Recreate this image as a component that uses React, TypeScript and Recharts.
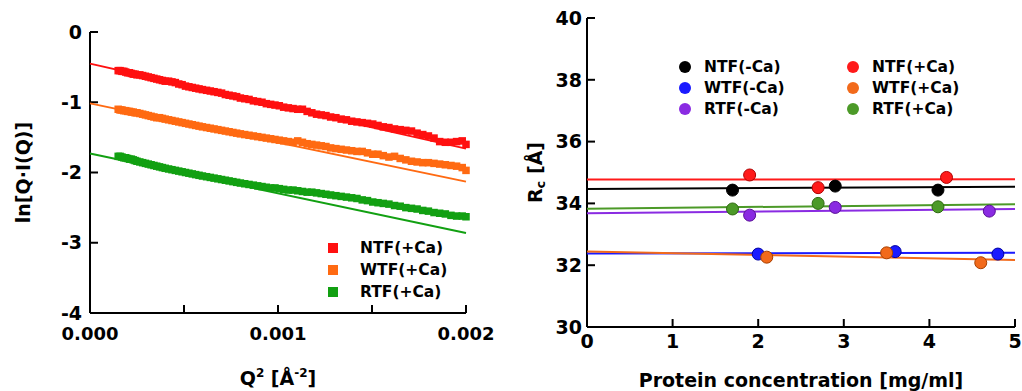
import { Scatter, ScatterChart, XAxis, YAxis } from 'recharts'

// ---- left panel: Guinier-type plot ln[Q·I(Q)] vs Q^2 ----
const Q2 = [
  0.00015, 0.00016, 0.00017, 0.00018, 0.00019, 0.0002, 0.00021, 0.00022, 0.00023, 0.00024, 0.00025,
  0.000265, 0.00028, 0.000295, 0.00031, 0.000325, 0.00034, 0.000355, 0.00037, 0.000385, 0.0004,
  0.000418, 0.000436, 0.000454, 0.000472, 0.00049, 0.000508, 0.000526, 0.000544, 0.000562, 0.00058, 0.000598,
  0.00062, 0.00064, 0.00066, 0.00068, 0.0007, 0.00072, 0.00074, 0.00076, 0.00078, 0.0008,
  0.000823, 0.000846, 0.000869, 0.000892, 0.000915, 0.000938, 0.000961, 0.000984, 0.001007, 0.00103,
  0.001055, 0.00108, 0.001105, 0.00113, 0.001155, 0.00118, 0.001205, 0.00123, 0.001255, 0.00128,
  0.001308, 0.001336, 0.001364, 0.001392, 0.00142, 0.001448, 0.001476, 0.001504, 0.001532, 0.00156,
  0.00159, 0.00162, 0.00165, 0.00168, 0.00171, 0.00174, 0.00177, 0.0018, 0.00183, 0.00186, 0.00189,
  0.00192, 0.00195, 0.00198, 0.002,
]
const NTF_CA = [
  -0.55, -0.55, -0.56, -0.56, -0.57, -0.58, -0.58, -0.59, -0.6, -0.6, -0.61,
  -0.61, -0.62, -0.63, -0.64, -0.65, -0.66, -0.67, -0.68, -0.69, -0.7,
  -0.7, -0.71, -0.72, -0.74, -0.75, -0.77, -0.78, -0.79, -0.8, -0.81, -0.82,
  -0.83, -0.84, -0.85, -0.86, -0.87, -0.89, -0.9, -0.91, -0.92, -0.94,
  -0.95, -0.96, -0.98, -0.99, -1.0, -1.02, -1.03, -1.04, -1.05, -1.07,
  -1.08, -1.09, -1.1, -1.1, -1.13, -1.15, -1.17, -1.18, -1.19, -1.21,
  -1.22, -1.24, -1.25, -1.27, -1.28, -1.29, -1.3, -1.31, -1.33, -1.35,
  -1.36, -1.38, -1.39, -1.4, -1.41, -1.44, -1.46, -1.48, -1.51, -1.56, -1.57,
  -1.57, -1.56, -1.55, -1.6,
]
const WTF_CA = [
  -1.1, -1.11, -1.11, -1.12, -1.12, -1.13, -1.13, -1.14, -1.14, -1.15, -1.15,
  -1.16, -1.17, -1.18, -1.19, -1.2, -1.21, -1.22, -1.22, -1.23, -1.24,
  -1.25, -1.26, -1.27, -1.28, -1.29, -1.3, -1.31, -1.32, -1.33, -1.34, -1.35,
  -1.36, -1.37, -1.38, -1.39, -1.4, -1.41, -1.42, -1.43, -1.44, -1.45,
  -1.46, -1.47, -1.48, -1.49, -1.5, -1.51, -1.52, -1.53, -1.54, -1.55,
  -1.56, -1.57, -1.55, -1.57, -1.59, -1.6, -1.61, -1.62, -1.63, -1.65,
  -1.66, -1.67, -1.68, -1.69, -1.7, -1.7, -1.72, -1.74, -1.74, -1.76,
  -1.78, -1.77, -1.8, -1.82, -1.84, -1.85, -1.86, -1.86, -1.87, -1.88, -1.89,
  -1.9, -1.91, -1.93, -1.97,
]
const RTF_CA = [
  -1.77, -1.77, -1.78, -1.79, -1.79, -1.8, -1.81, -1.81, -1.82, -1.83, -1.84,
  -1.85, -1.86, -1.87, -1.88, -1.89, -1.9, -1.91, -1.92, -1.93, -1.94,
  -1.95, -1.96, -1.97, -1.98, -1.99, -2.0, -2.01, -2.02, -2.03, -2.04, -2.05,
  -2.06, -2.07, -2.08, -2.09, -2.1, -2.11, -2.12, -2.13, -2.14, -2.15,
  -2.16, -2.17, -2.18, -2.19, -2.2, -2.21, -2.22, -2.22, -2.23, -2.24,
  -2.25, -2.25, -2.26, -2.27, -2.28, -2.28, -2.29, -2.3, -2.31, -2.32,
  -2.33, -2.34, -2.35, -2.36, -2.37, -2.39, -2.4, -2.42, -2.43, -2.44,
  -2.45, -2.47, -2.48, -2.5, -2.51, -2.52, -2.54, -2.55, -2.57, -2.58, -2.59,
  -2.61, -2.62, -2.62, -2.63,
]
const FIT_Q2 = [0, 0.002]
const NTF_CA_FIT = [-0.45, -1.66]
const WTF_CA_FIT = [-1.016, -2.13]
const RTF_CA_FIT = [-1.73, -2.86]

const Q2_TICKS = [0, 0.0005, 0.001, 0.0015, 0.002]
const LN_TICKS = [-4, -3, -2, -1, 0]

// ---- right panel: Rc vs protein concentration ----
const CONC_FIT = [0, 5]
const NTF_M_CONC = [1.7, 2.9, 4.1]
const NTF_M_RC = [34.43, 34.56, 34.43]
const NTF_M_FIT = [34.47, 34.54]
const NTF_P_CONC = [1.9, 2.7, 4.2]
const NTF_P_RC = [34.92, 34.51, 34.84]
const NTF_P_FIT = [34.77, 34.78]
const WTF_M_CONC = [2.0, 3.6, 4.8]
const WTF_M_RC = [32.36, 32.44, 32.36]
const WTF_M_FIT = [32.38, 32.4]
const WTF_P_CONC = [2.1, 3.5, 4.6]
const WTF_P_RC = [32.26, 32.4, 32.08]
const WTF_P_FIT = [32.44, 32.17]
const RTF_M_CONC = [1.9, 2.9, 4.7]
const RTF_M_RC = [33.62, 33.87, 33.75]
const RTF_M_FIT = [33.68, 33.82]
const RTF_P_CONC = [1.7, 2.7, 4.1]
const RTF_P_RC = [33.82, 34.0, 33.89]
const RTF_P_FIT = [33.83, 33.97]

const CONC_TICKS = [0, 1, 2, 3, 4, 5]
const RC_TICKS = [30, 32, 34, 36, 38, 40]

const FONT = '"DejaVu Sans", sans-serif'

const pts = (xs: number[], ys: number[]) => xs.map((x, i) => ({ x, y: ys[i] }))

const leftSeries = [
  { name: 'NTF(+Ca)', color: '#ff1010', values: NTF_CA, fit: NTF_CA_FIT },
  { name: 'WTF(+Ca)', color: '#ff6a12', values: WTF_CA, fit: WTF_CA_FIT },
  { name: 'RTF(+Ca)', color: '#12a012', values: RTF_CA, fit: RTF_CA_FIT },
]

const rightSeries = [
  { name: 'NTF(-Ca)', color: '#000000', edge: '#000000', conc: NTF_M_CONC, rc: NTF_M_RC, fit: NTF_M_FIT },
  { name: 'NTF(+Ca)', color: '#ff1a1a', edge: '#b00000', conc: NTF_P_CONC, rc: NTF_P_RC, fit: NTF_P_FIT },
  { name: 'WTF(-Ca)', color: '#1a1aff', edge: '#0000a0', conc: WTF_M_CONC, rc: WTF_M_RC, fit: WTF_M_FIT },
  { name: 'WTF(+Ca)', color: '#f26a1b', edge: '#a84000', conc: WTF_P_CONC, rc: WTF_P_RC, fit: WTF_P_FIT },
  { name: 'RTF(-Ca)', color: '#8a2be2', edge: '#5a1098', conc: RTF_M_CONC, rc: RTF_M_RC, fit: RTF_M_FIT },
  { name: 'RTF(+Ca)', color: '#4c9a28', edge: '#2e6a10', conc: RTF_P_CONC, rc: RTF_P_RC, fit: RTF_P_FIT },
]

const tickFont = { fontSize: 19, fontWeight: 'bold', fill: '#000', fontFamily: FONT }
const axisLine = { stroke: '#000', strokeWidth: 2 }
const noShape = () => <g />

const LnTitle = (props: any) => {
  const vb = props.viewBox
  const cx = vb.x + 23
  const cy = vb.y + vb.height / 2
  return (
    <text x={cx} y={cy} transform={`rotate(-90 ${cx} ${cy})`} textAnchor="middle" dominantBaseline="central"
      fontFamily={FONT} fontWeight="bold" fontSize={19} fill="#000">
      ln[Q·I(Q)]
    </text>
  )
}

const Q2Title = (props: any) => {
  const vb = props.viewBox
  return (
    <text x={vb.x + vb.width / 2} y={vb.y + 72} textAnchor="middle" fontFamily={FONT} fontWeight="bold" fontSize={19} fill="#000">
      <tspan>Q</tspan>
      <tspan dy={-8} fontSize={12}>2</tspan>
      <tspan dy={8}> [Å</tspan>
      <tspan dy={-8} fontSize={12}>-2</tspan>
      <tspan dy={8}>]</tspan>
    </text>
  )
}

const RcTitle = (props: any) => {
  const vb = props.viewBox
  const cx = vb.x + 15
  const cy = vb.y + vb.height / 2
  return (
    <text x={cx} y={cy} transform={`rotate(-90 ${cx} ${cy})`} textAnchor="middle" dominantBaseline="central"
      fontFamily={FONT} fontWeight="bold" fontSize={19} fill="#000">
      <tspan>R</tspan>
      <tspan dy={5} fontSize={13}>c</tspan>
      <tspan dy={-5}> [Å]</tspan>
    </text>
  )
}

const ConcTitle = (props: any) => {
  const vb = props.viewBox
  return (
    <text x={vb.x + vb.width / 2} y={vb.y + 60} textAnchor="middle" fontFamily={FONT} fontWeight="bold" fontSize={19} fill="#000">
      Protein concentration [mg/ml]
    </text>
  )
}

const legendText = { fontFamily: FONT, fontWeight: 'bold' as const, fontSize: 15.5, color: '#000', whiteSpace: 'nowrap' as const }

function LeftLegend() {
  return (
    <div style={{ position: 'absolute', left: 328, top: 237 }}>
      {leftSeries.map((s, i) => (
        <div key={s.name} style={{ position: 'absolute', top: i * 22, left: 0, display: 'flex', alignItems: 'center', height: 22 }}>
          <div style={{ width: 10, height: 10, background: s.color }} />
          <span style={{ ...legendText, marginLeft: 22 }}>{s.name}</span>
        </div>
      ))}
    </div>
  )
}

function RightLegend() {
  return (
    <div style={{ position: 'absolute', left: 679, top: 56 }}>
      {rightSeries.map((s, i) => (
        <div key={s.name} style={{ position: 'absolute', top: Math.floor(i / 2) * 21, left: (i % 2) * 168, display: 'flex', alignItems: 'center', height: 22 }}>
          <div style={{ width: 12, height: 12, borderRadius: 6, background: s.color }} />
          <span style={{ ...legendText, marginLeft: 13 }}>{s.name}</span>
        </div>
      ))}
    </div>
  )
}

export default function App() {
  return (
    <div style={{ position: 'absolute', left: 0, top: 0, width: 1022, height: 391, background: '#fff' }}>
      <div style={{ position: 'absolute', left: 0, top: 0 }}>
        <ScatterChart width={520} height={391} margin={{ top: 32, right: 54, bottom: 0, left: 0 }}>
          <XAxis xAxisId="b" type="number" dataKey="x" domain={[0, 0.002]} ticks={Q2_TICKS}
            tickFormatter={(v: number) => (v === 0.0005 || v === 0.0015 ? '' : v.toFixed(3))}
            height={78} axisLine={axisLine} tickLine={axisLine} tickSize={-8} tickMargin={22}
            tick={{ ...tickFont, fontSize: 18 }} label={<Q2Title />} />
          <XAxis xAxisId="t" orientation="top" type="number" dataKey="x" domain={[0, 0.002]} height={0}
            axisLine={axisLine} tick={false} tickLine={false} />
          <YAxis yAxisId="l" type="number" dataKey="y" domain={[-4, 0]} ticks={LN_TICKS} width={90}
            axisLine={axisLine} tickLine={axisLine} tickSize={-8} tickMargin={16} tick={tickFont}
            label={<LnTitle />} />
          <YAxis yAxisId="r" orientation="right" type="number" dataKey="y" domain={[-4, 0]} ticks={LN_TICKS} width={0}
            axisLine={axisLine} tickLine={axisLine} tickSize={-8} tick={false} />
          {leftSeries.map((s) => (
            <Scatter key={s.name + 'pts'} xAxisId="b" yAxisId="l" data={pts(Q2, s.values)} isAnimationActive={false}
              shape={(p: any) => <rect x={p.cx - 3.75} y={p.cy - 3.75} width={7.5} height={7.5} fill={s.color} />} />
          ))}
          {leftSeries.map((s) => (
            <Scatter key={s.name + 'fit'} xAxisId="b" yAxisId="l" data={pts(FIT_Q2, s.fit)} isAnimationActive={false}
              line={{ stroke: s.color, strokeWidth: 2 }} shape={noShape} />
          ))}
        </ScatterChart>
      </div>
      <div style={{ position: 'absolute', left: 520, top: 0 }}>
        <ScatterChart width={502} height={391} margin={{ top: 18, right: 7, bottom: 0, left: 0 }}>
          <XAxis xAxisId="b" type="number" dataKey="x" domain={[0, 5]} ticks={CONC_TICKS} height={64}
            axisLine={axisLine} tickLine={axisLine} tickSize={-8} tickMargin={16} tick={tickFont}
            label={<ConcTitle />} />
          <XAxis xAxisId="t" orientation="top" type="number" dataKey="x" domain={[0, 5]} height={0}
            axisLine={axisLine} tick={false} tickLine={false} />
          <YAxis yAxisId="l" type="number" dataKey="y" domain={[30, 40]} ticks={RC_TICKS} width={67}
            axisLine={axisLine} tickLine={axisLine} tickSize={-8} tickMargin={13} tick={tickFont}
            label={<RcTitle />} />
          <YAxis yAxisId="r" orientation="right" type="number" dataKey="y" domain={[30, 40]} ticks={RC_TICKS} width={0}
            axisLine={axisLine} tickLine={axisLine} tickSize={-8} tick={false} />
          {rightSeries.map((s) => (
            <Scatter key={s.name + 'fit'} xAxisId="b" yAxisId="l" data={pts(CONC_FIT, s.fit)} isAnimationActive={false}
              line={{ stroke: s.color, strokeWidth: 2 }} shape={noShape} />
          ))}
          {rightSeries.map((s) => (
            <Scatter key={s.name + 'pts'} xAxisId="b" yAxisId="l" data={pts(s.conc, s.rc)} isAnimationActive={false}
              shape={(p: any) => <circle cx={p.cx} cy={p.cy} r={6} fill={s.color} stroke={s.edge} strokeWidth={1} />} />
          ))}
        </ScatterChart>
      </div>
      <LeftLegend />
      <RightLegend />
    </div>
  )
}
